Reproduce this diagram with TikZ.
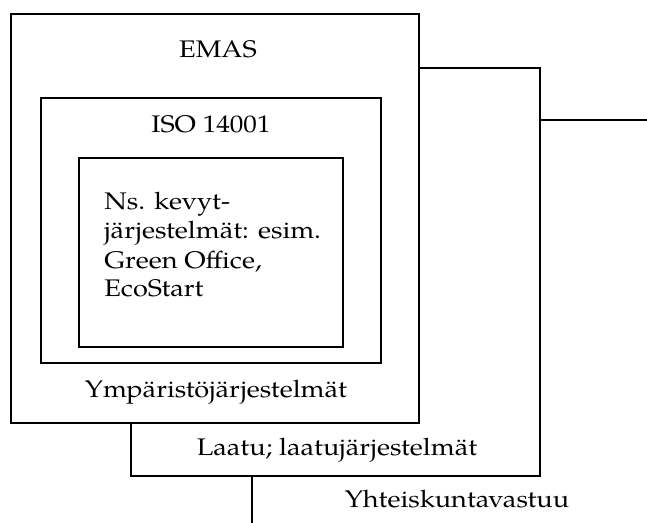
\documentclass[tikz,border=0pt]{standalone}
\usepackage{fontspec}
\setmainfont[FakeStretch=1.13]{TeX Gyre Pagella}
\usepackage{tikz}
\usetikzlibrary{positioning}

\begin{document}
\begin{tikzpicture}[x=0.5pt,y=-0.5pt,
    frame/.style={draw,fill=white,line width=0.6pt,inner sep=0pt,outer sep=0pt},
    lbl/.style={anchor=base,inner sep=0pt,font=\fontsize{12}{14.5}\selectfont}]
    \clip (0,0) rectangle (647,523);
    % outermost first, so each box hides the one behind it
    \node[frame,minimum width=205pt,minimum height=204.5pt] (society) at (457,324.5) {};
    \node[frame,minimum width=204.5pt,minimum height=204pt] (quality) at (335.5,272) {};
    \node[frame,minimum width=204pt,minimum height=204.5pt] (emas) at (215,218.5) {};
    \node[frame,minimum width=170pt,minimum height=132.5pt] (iso) at (211,230.5) {};
    \node[frame,minimum width=132pt,minimum height=94.5pt] (light) at (211,252.5) {};
    % labels (base of a multi-line node is its last line)
    \node[lbl] (emaslbl) at (218,58) {EMAS};
    \node[lbl] (isolbl) at (211,133) {ISO 14001};
    \node[lbl,anchor=base west,align=left] (lightlbl) at (104,297)
        {Ns. kevyt-\\järjestelmät: esim.\\Green Office,\\EcoStart};
    \node[lbl] (envlbl) at (216,397) {Ympäristöjärjestelmät};
    \node[lbl] (qualitylbl) at (337,455) {Laatu; laatujärjestelmät};
    \node[lbl] (societylbl) at (457,507) {Yhteiskuntavastuu};
\end{tikzpicture}
\end{document}
